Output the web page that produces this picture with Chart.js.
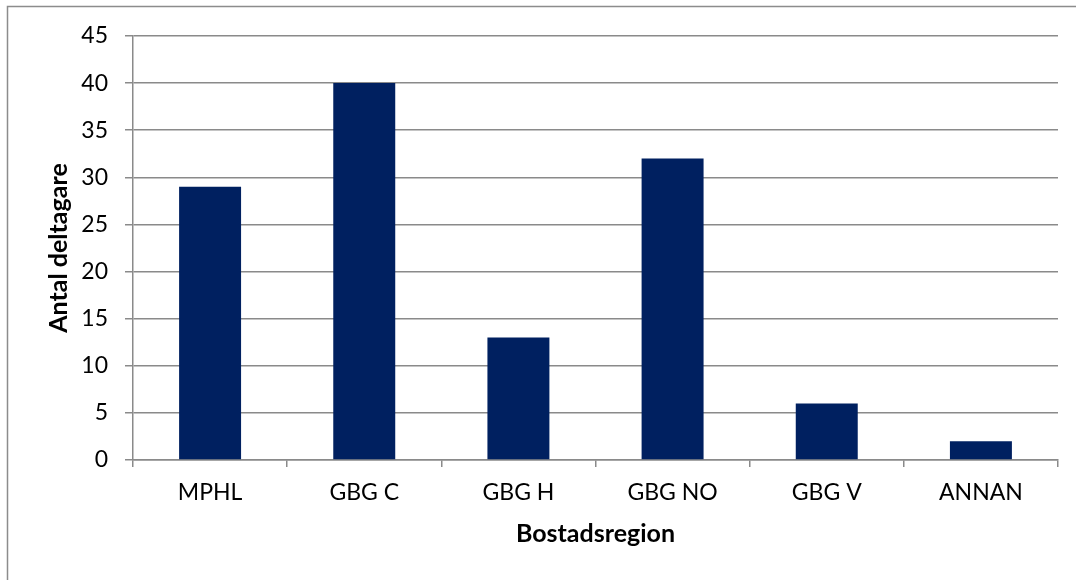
<!DOCTYPE html>
<html>
<head>
<meta charset="utf-8">
<script src="https://cdn.jsdelivr.net/npm/chart.js@4/dist/chart.umd.min.js"></script>
<style>
  html, body { margin: 0; padding: 0; background: #fff; }
  #wrap { position: relative; width: 1076px; height: 580px; }
</style>
</head>
<body>
<div id="wrap"><canvas id="chart" width="1076" height="580"></canvas></div>
<script>
// Participants per residential region
const regions = ['MPHL', 'GBG C', 'GBG H', 'GBG NO', 'GBG V', 'ANNAN'];
const participants = [29, 40, 13, 32, 6, 2];
const yTicks = [0, 5, 10, 15, 20, 25, 30, 35, 40, 45];

const FONT = 'Lato, "Open Sans", sans-serif';
const GRID = '#8a8a8a';

// Thin frame along the top and left edges of the chart object
const framePlugin = {
  id: 'frame',
  beforeDraw(chart) {
    const ctx = chart.ctx;
    ctx.save();
    ctx.strokeStyle = '#8c8c8c';
    ctx.lineWidth = 1.5;
    ctx.beginPath();
    ctx.moveTo(7.5, chart.height);
    ctx.lineTo(7.5, 6.5);
    ctx.lineTo(chart.width, 6.5);
    ctx.stroke();
    ctx.restore();
  }
};

new Chart(document.getElementById('chart'), {
  type: 'bar',
  data: {
    labels: regions,
    datasets: [{
      data: participants,
      backgroundColor: '#002060',
      borderWidth: 0,
      barPercentage: 1,
      categoryPercentage: 0.402
    }]
  },
  options: {
    responsive: false,
    animation: false,
    layout: { padding: { left: 40, top: 36, right: 18, bottom: 10 } },
    plugins: { legend: { display: false }, tooltip: { enabled: false } },
    scales: {
      x: {
        offset: true,
        grid: {
          display: true,
          offset: true,
          drawOnChartArea: false,
          drawTicks: true,
          tickLength: 7,
          color: GRID,
          lineWidth: 1.5
        },
        border: { display: true, color: GRID, width: 1.5 },
        ticks: { color: '#000', font: { family: FONT, size: 23 }, padding: 12, maxRotation: 0 },
        title: {
          display: true,
          text: 'Bostadsregion',
          color: '#000',
          font: { family: FONT, size: 25, weight: 'bold' },
          padding: { top: 0, bottom: 21 }
        },
        afterFit(scale) { scale.height = 110; }
      },
      y: {
        min: 0,
        max: 45,
        afterBuildTicks(scale) { scale.ticks = yTicks.map(v => ({ value: v })); },
        grid: {
          color: GRID,
          lineWidth: 1.5,
          drawTicks: true,
          tickLength: 8
        },
        border: { display: true, color: GRID, width: 1.5 },
        ticks: { color: '#000', font: { family: FONT, size: 23 }, padding: 17 },
        title: {
          display: true,
          text: 'Antal deltagare',
          color: '#000',
          font: { family: FONT, size: 25, weight: 'bold' },
          padding: { top: 4, bottom: 0 }
        },
        afterFit(scale) { scale.width = 93; }
      }
    }
  },
  plugins: [framePlugin]
});
</script>
</body>
</html>
